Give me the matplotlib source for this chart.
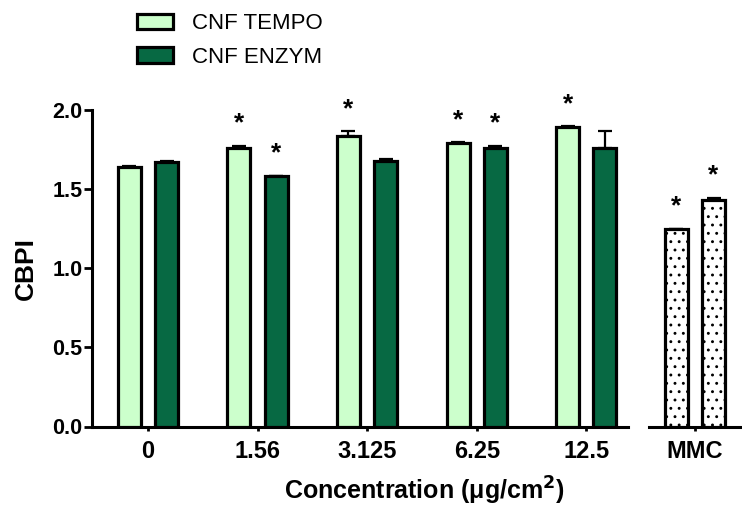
import matplotlib
matplotlib.use("Agg")
import matplotlib.pyplot as plt
import numpy as np
from matplotlib.patches import Patch

plt.rcParams['font.family'] = ['Liberation Sans', 'DejaVu Sans']
plt.rcParams['hatch.linewidth'] = 0.9

categories = ["0", "1.56", "3.125", "6.25", "12.5"]
control_label = "MMC"
tempo_vals = [1.64, 1.76, 1.836, 1.79, 1.89]
tempo_err = [0.005, 0.015, 0.03, 0.005, 0.008]
enzym_vals = [1.67, 1.58, 1.68, 1.76, 1.76]
enzym_err = [0.005, 0.005, 0.008, 0.015, 0.11]
tempo_sig = [False, True, True, True, True]
enzym_sig = [False, True, False, True, False]
mmc_vals = [1.246, 1.43]
mmc_err = [0.003, 0.016]
mmc_sig = [True, True]
series_names = ["CNF TEMPO", "CNF ENZYM"]

light = '#CCFFCC'
dark = '#076943'
lw = 2.3
bw = 0.21
off = 0.17

fig = plt.figure(figsize=(7.42, 5.08), dpi=100)
ax1 = fig.add_axes([92/742, 81.5/508, 536/742, 316.5/508])
ax2 = fig.add_axes([649/742, 81.5/508, 93/742, 316.5/508], sharey=ax1)

x = np.arange(len(categories))
ekw = dict(elinewidth=1.6, capthick=1.6, ecolor='black')

def star(ax, xs, tops, sig):
    for xi, t, s in zip(xs, tops, sig):
        if s:
            ax.annotate('*', (xi, t), xytext=(0, 11), textcoords='offset points',
                        ha='center', va='baseline', fontsize=19, fontweight='bold',
                        annotation_clip=False)

ax1.bar(x - off, tempo_vals, bw, color=light, edgecolor='black', linewidth=lw,
        yerr=[np.zeros(len(x)), tempo_err], capsize=5, error_kw=ekw, zorder=3)
ax1.bar(x + off, enzym_vals, bw, color=dark, edgecolor='black', linewidth=lw,
        yerr=[np.zeros(len(x)), enzym_err], capsize=5, error_kw=ekw, zorder=3)
star(ax1, x - off, np.array(tempo_vals) + np.array(tempo_err), tempo_sig)
star(ax1, x + off, np.array(enzym_vals) + np.array(enzym_err), enzym_sig)

xm = np.array([-off, off])
ax2.bar(xm, mmc_vals, bw, color='white', edgecolor='black', linewidth=lw, hatch='..',
        yerr=[np.zeros(2), mmc_err], capsize=5, error_kw=ekw, zorder=3)
star(ax2, xm, np.array(mmc_vals) + np.array(mmc_err), mmc_sig)

ax1.set_xlim(-0.51, 4.38)
ax2.set_xlim(-0.42, 0.43)
ax1.set_ylim(0, 2.0)
ax1.set_yticks([0, 0.5, 1.0, 1.5, 2.0])
ax1.set_yticklabels(['0.0', '0.5', '1.0', '1.5', '2.0'])
ax1.set_xticks(x)
ax1.set_xticklabels(categories)
ax2.set_xticks([0])
ax2.set_xticklabels([control_label])

for ax in (ax1, ax2):
    ax.spines['top'].set_visible(False)
    ax.spines['right'].set_visible(False)
    ax.spines['bottom'].set_linewidth(2.2)
    ax.spines['left'].set_linewidth(2.2)
    ax.tick_params(axis='x', length=3, width=2, labelsize=17, pad=7)
    for lab in ax.get_xticklabels():
        lab.set_fontweight('bold')
ax2.spines['left'].set_visible(False)
ax2.tick_params(axis='y', left=False, labelleft=False)
ax1.tick_params(axis='y', length=6, width=2, labelsize=15.5, pad=1)
for lab in ax1.get_yticklabels():
    lab.set_fontweight('bold')

ax1.set_ylabel('CBPI', fontsize=19, fontweight='bold', labelpad=10)
fig.text(424/742, 1 - 491/508, 'Concentration (μg/cm$^{\\mathbf{2}}$)', ha='center', va='center',
         fontsize=18, fontweight='bold')

handles = [Patch(facecolor=light, edgecolor='black', linewidth=lw),
           Patch(facecolor=dark, edgecolor='black', linewidth=lw)]
fig.legend(handles, series_names, loc='upper left', bbox_to_anchor=(124/742, 1.0),
           frameon=False, fontsize=16, handlelength=1.6, handleheight=0.7,
           handletextpad=0.85, labelspacing=0.55, borderaxespad=0.2)

fig.savefig('out.png', dpi=100)
